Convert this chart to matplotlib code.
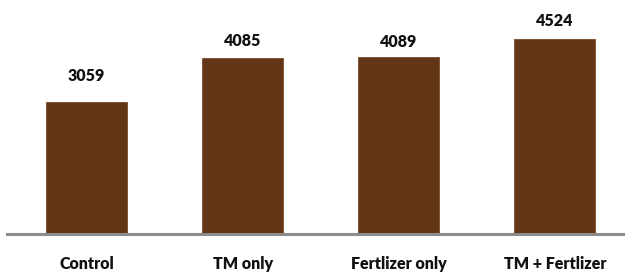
import matplotlib
matplotlib.use('Agg')
import matplotlib.pyplot as plt

categories = ['Control', 'TM only', 'Fertlizer only', 'TM + Fertlizer']
values = [3059, 4085, 4089, 4524]
label_pad = [13, 6, 5, 7]  # gap above each bar, points

plt.rcParams['font.family'] = ['Lato', 'DejaVu Sans']

fig = plt.figure(figsize=(6.25, 2.75), dpi=100)
ax = fig.add_axes([7 / 625, 41 / 275, 618 / 625, 216 / 275])

x = range(len(categories))
ax.bar(x, values, width=0.52, color='#623616', edgecolor='#7a4a2a', linewidth=0.6)

for i, v in enumerate(values):
    ax.annotate(str(v), (i, v), xytext=(0, label_pad[i]), textcoords='offset points',
                ha='center', va='bottom', fontsize=11.5, fontweight='heavy', color='#111111')

ax.set_xlim(-0.51, 3.45)
ax.set_ylim(0, 5000)
ax.set_xticks(list(x))
ax.set_xticklabels(categories, fontsize=11.5, fontweight='heavy', color='#111111')
ax.tick_params(axis='x', length=0, pad=16)
ax.set_yticks([])
for s in ['top', 'right', 'left']:
    ax.spines[s].set_visible(False)
ax.spines['bottom'].set_color('#8c8c8c')
ax.spines['bottom'].set_linewidth(2.2)

fig.savefig('out.png', dpi=100)
